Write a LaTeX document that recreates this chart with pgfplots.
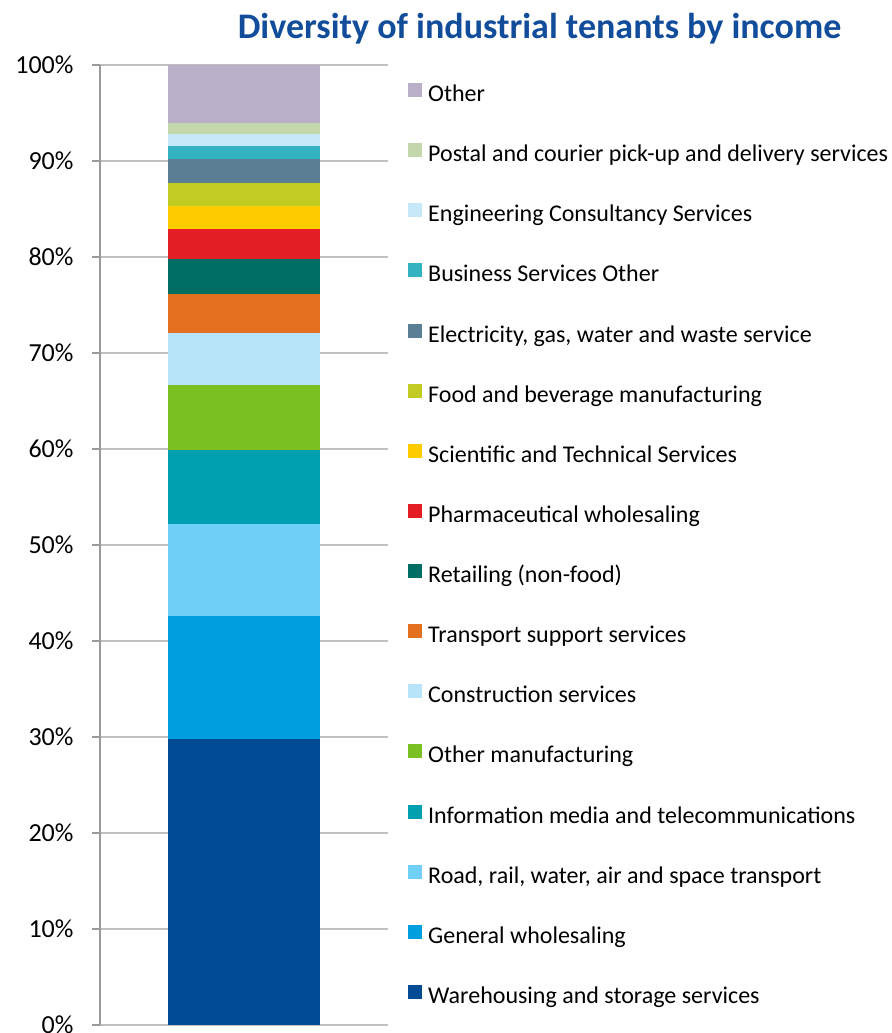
\documentclass[border=0pt]{standalone}
\usepackage{pgfplots}
\pgfplotsset{compat=1.18}
\usepackage{fontspec}
\setmainfont{Carlito}
\definecolor{cWare}{RGB}{0,75,147}
\definecolor{cGen}{RGB}{0,159,224}
\definecolor{cRoad}{RGB}{111,207,246}
\definecolor{cInfo}{RGB}{0,160,176}
\definecolor{cOman}{RGB}{122,192,35}
\definecolor{cCons}{RGB}{184,228,249}
\definecolor{cTrans}{RGB}{227,112,30}
\definecolor{cRet}{RGB}{0,110,98}
\definecolor{cPharm}{RGB}{227,30,36}
\definecolor{cSci}{RGB}{255,204,0}
\definecolor{cFood}{RGB}{194,203,34}
\definecolor{cElec}{RGB}{90,127,149}
\definecolor{cBus}{RGB}{51,179,193}
\definecolor{cEng}{RGB}{198,232,248}
\definecolor{cPost}{RGB}{196,214,172}
\definecolor{cOther}{RGB}{185,175,201}
\definecolor{cTitle}{RGB}{18,77,155}
\definecolor{cGrid}{RGB}{192,192,192}
\begin{document}
\begin{tikzpicture}
\begin{axis}[
  scale only axis,
  width=288bp, height=960bp,
  ybar stacked,
  bar width=152bp,
  xmin=-1, xmax=1,
  ymin=0, ymax=100,
  xtick=\empty,
  ytick={0,10,...,100},
  yticklabel={\pgfmathprintnumber{\tick}\%},
  /pgf/number format/assume math mode=true,
  tick label style={font=\fontsize{26bp}{30bp}\selectfont, text=black},
  ymajorgrids,
  grid style={cGrid, line width=1.6bp},
  axis line style={cGrid!80!black, line width=1.2bp},
  axis x line*=bottom,
  axis y line*=left,
  x axis line style={cGrid, line width=1.6bp},
  ytick align=outside,
  major tick length=8bp,
  tick style={cGrid!80!black, line width=1.2bp},
  yticklabel style={xshift=-15bp},
  reverse legend,
  legend cell align=left,
  area legend,
  legend image code/.code={\fill[#1,draw=none] (0bp,-3bp) rectangle (14bp,11bp);},
  legend style={
    at={(rel axis cs:1,0.5)}, anchor=west, xshift=20bp,
    draw=none, fill=none, inner sep=0pt,
    font=\fontsize{24bp}{28bp}\selectfont,
    nodes={inner sep=0pt, text height=20bp, text depth=5bp},
    row sep=35.13bp, column sep=6bp,
  },
  every axis plot/.append style={draw=none},
  clip=false,
]
\addplot[fill=cWare]  coordinates {(0,29.8)};
\addlegendentry{Warehousing and storage services}
\addplot[fill=cGen]   coordinates {(0,12.8)};
\addlegendentry{General wholesaling}
\addplot[fill=cRoad]  coordinates {(0,9.6)};
\addlegendentry{Road, rail, water, air and space transport}
\addplot[fill=cInfo]  coordinates {(0,7.7)};
\addlegendentry{Information media and telecommunications}
\addplot[fill=cOman]  coordinates {(0,6.8)};
\addlegendentry{Other manufacturing}
\addplot[fill=cCons]  coordinates {(0,5.4)};
\addlegendentry{Construction services}
\addplot[fill=cTrans] coordinates {(0,4.05)};
\addlegendentry{Transport support services}
\addplot[fill=cRet]   coordinates {(0,3.6)};
\addlegendentry{Retailing (non-food)}
\addplot[fill=cPharm] coordinates {(0,3.15)};
\addlegendentry{Pharmaceutical wholesaling}
\addplot[fill=cSci]   coordinates {(0,2.4)};
\addlegendentry{Scientific and Technical Services}
\addplot[fill=cFood]  coordinates {(0,2.4)};
\addlegendentry{Food and beverage manufacturing}
\addplot[fill=cElec]  coordinates {(0,2.5)};
\addlegendentry{Electricity, gas, water and waste service}
\addplot[fill=cBus]   coordinates {(0,1.4)};
\addlegendentry{Business Services Other}
\addplot[fill=cEng]   coordinates {(0,1.2)};
\addlegendentry{Engineering Consultancy Services}
\addplot[fill=cPost]  coordinates {(0,1.2)};
\addlegendentry{Postal and courier pick-up and delivery services}
\addplot[fill=cOther] coordinates {(0,6.0)};
\addlegendentry{Other}
\coordinate (sw) at (rel axis cs:0,0);
\coordinate (nw) at (rel axis cs:0,1);
\end{axis}
\node[font=\fontsize{36bp}{40bp}\selectfont\bfseries, text=cTitle] at ([xshift=439.5bp,yshift=36bp]nw) {Diversity of industrial tenants by income};
\pgfresetboundingbox
\path[use as bounding box] ([xshift=-100bp,yshift=-8bp]sw) rectangle ([xshift=792bp,yshift=65bp]nw);
\end{tikzpicture}
\end{document}
